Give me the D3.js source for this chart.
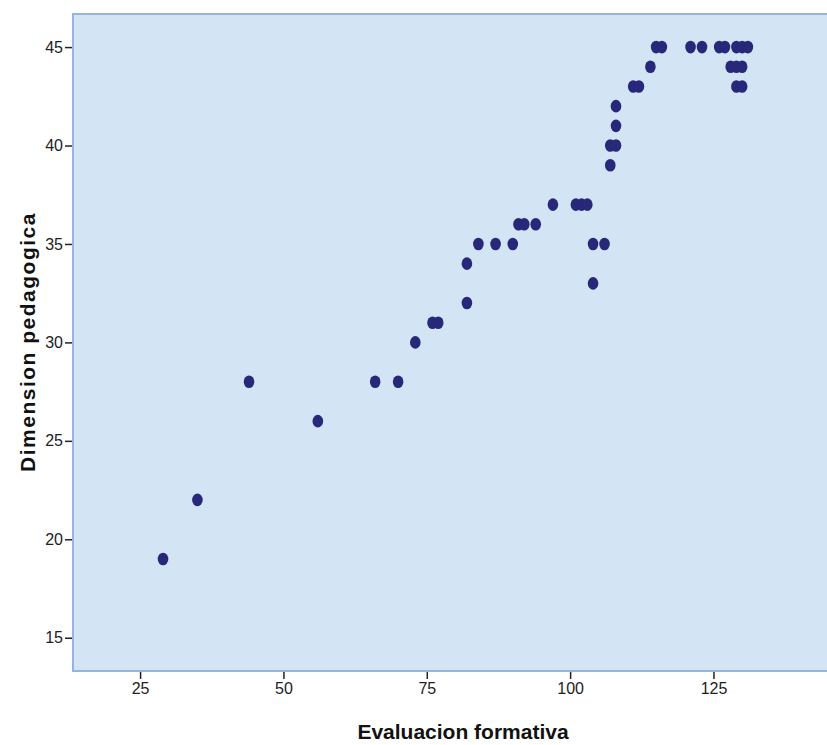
<!DOCTYPE html>
<html>
<head>
<meta charset="utf-8">
<script src="https://cdn.jsdelivr.net/npm/d3@7"></script>
<style>
  body { margin: 0; background: #fff; }
  text { font-family: "Liberation Sans", Arial, sans-serif; }
</style>
</head>
<body>
<div id="chart"></div>
<script>
// values
var evalFormativa = [29, 35, 44, 56, 66, 70, 73, 76, 77, 82, 82, 84, 87, 90, 91, 92, 94, 97,
  101, 102, 103, 104, 104, 106, 107, 107, 108, 108, 108, 111, 112, 114, 115, 116, 121, 123,
  126, 127, 129, 130, 131, 128, 129, 130, 129, 130];
var dimPedagogica = [19, 22, 28, 26, 28, 28, 30, 31, 31, 34, 32, 35, 35, 35, 36, 36, 36, 37,
  37, 37, 37, 35, 33, 35, 39, 40, 40, 41, 42, 43, 43, 44, 45, 45, 45, 45,
  45, 45, 45, 45, 45, 44, 44, 44, 43, 43];
var xTicks = [25, 50, 75, 100, 125];
var yTicks = [15, 20, 25, 30, 35, 40, 45];

var width = 827, height = 745;
var plotL = 73, plotT = 14, plotR = 827, plotB = 671;

var svg = d3.select("#chart").append("svg")
  .attr("width", width)
  .attr("height", height);

var x = d3.scaleLinear().domain([13.3, 144.8]).range([plotL, plotR]);
var y = d3.scaleLinear().domain([13.31, 46.68]).range([plotB, plotT]);

// plot background
svg.append("rect")
  .attr("x", plotL).attr("y", plotT)
  .attr("width", plotR - plotL + 2).attr("height", plotB - plotT)
  .attr("fill", "#d3e5f4")
  .attr("stroke", "#93b7db")
  .attr("stroke-width", 2);

var xAxis = d3.axisBottom(x).tickValues(xTicks).tickSize(7).tickSizeOuter(0);
var yAxis = d3.axisLeft(y).tickValues(yTicks).tickSize(7).tickSizeOuter(0);

var tickFont = '"Liberation Sans Narrow", "Liberation Sans", Arial, sans-serif';

var gx = svg.append("g")
  .attr("transform", "translate(0," + (plotB + 1) + ")")
  .call(xAxis);
gx.select(".domain").remove();
gx.selectAll("line").attr("stroke", "#222").attr("stroke-width", 1.5);
gx.selectAll("text").attr("fill", "#222")
  .style("font-family", tickFont).style("font-size", "16px").attr("y", 11);

var gy = svg.append("g")
  .attr("transform", "translate(" + (plotL - 1) + ",0)")
  .call(yAxis);
gy.select(".domain").remove();
gy.selectAll("line").attr("stroke", "#222").attr("stroke-width", 1.5);
gy.selectAll("text").attr("fill", "#222")
  .style("font-family", tickFont).style("font-size", "16px").attr("x", -9);

// points
var pts = evalFormativa.map(function(v, i) { return [v, dimPedagogica[i]]; });
svg.append("g").selectAll("ellipse")
  .data(pts)
  .enter().append("ellipse")
  .attr("cx", function(d) { return x(d[0]); })
  .attr("cy", function(d) { return y(d[1]); })
  .attr("rx", 5.3)
  .attr("ry", 6.3)
  .attr("fill", "#27287a");

// axis titles
svg.append("text")
  .attr("x", 463).attr("y", 739)
  .attr("text-anchor", "middle")
  .style("font-size", "21px").style("font-weight", "bold")
  .attr("fill", "#111")
  .text("Evaluacion formativa");

svg.append("text")
  .attr("transform", "translate(35,342) rotate(-90)")
  .attr("text-anchor", "middle")
  .style("font-size", "21px").style("font-weight", "bold")
  .style("letter-spacing", "1.5px")
  .attr("fill", "#111")
  .text("Dimension pedagogica");
</script>
</body>
</html>
